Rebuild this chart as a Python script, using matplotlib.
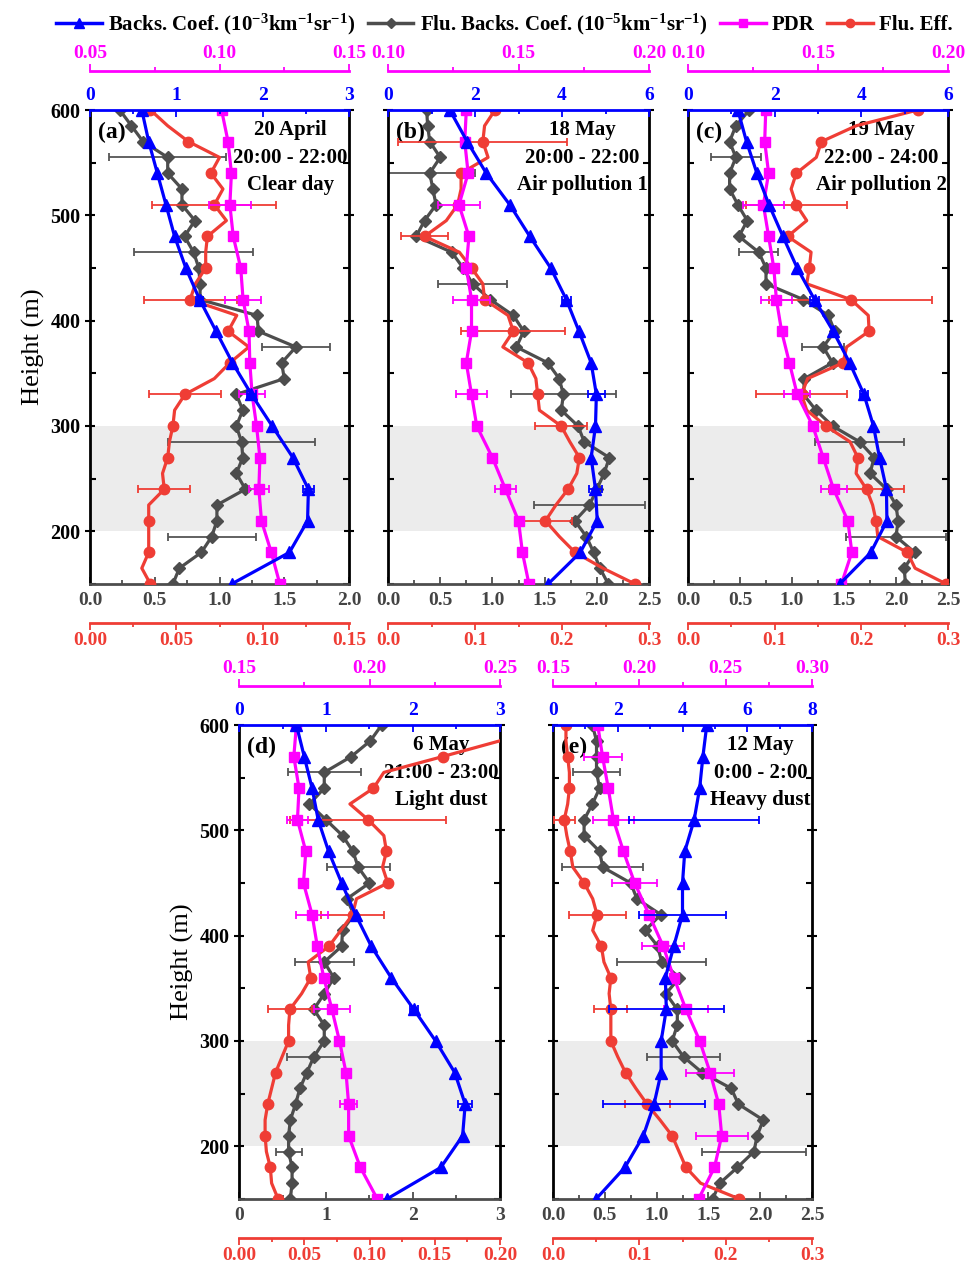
import numpy as np
import matplotlib.pyplot as plt
from matplotlib.ticker import MultipleLocator, FormatStrFormatter
from matplotlib.lines import Line2D

plt.rcParams['font.family'] = ['Liberation Serif', 'DejaVu Serif']
plt.rcParams['font.weight'] = 'bold'
plt.rcParams['mathtext.fontset'] = 'custom'
plt.rcParams['mathtext.rm'] = 'Liberation Serif:bold'
plt.rcParams['mathtext.it'] = 'Liberation Serif:bold'
plt.rcParams['mathtext.bf'] = 'Liberation Serif:bold'

BLUE = '#0000ff'
GRAY = '#4d4d4d'
PINK = '#ff00ff'
RED = '#ef3d35'

# heights (m): fluorescence every 15 m, backscatter / PDR every 30 m
h15 = np.arange(150, 601, 15)
h30 = np.arange(150, 601, 30)

# (a) 20 April, clear day
a_back = [1.64, 2.31, 2.52, 2.53, 2.35, 2.11, 1.87, 1.65, 1.46, 1.27, 1.11, 0.98, 0.88, 0.78, 0.68, 0.60]
a_pdr = [0.1233, 0.120, 0.1162, 0.1152, 0.1156, 0.1143, 0.1126, 0.1117, 0.1114, 0.1091, 0.1082, 0.1053, 0.1040, 0.1046, 0.1033, 0.1008]
a_flu = [0.64, 0.69, 0.86, 0.94, 0.98, 0.98, 1.20, 1.13, 1.18, 1.17, 1.13, 1.18, 1.13, 1.50, 1.48, 1.59,
         1.30, 1.29, 0.85, 0.85, 0.84, 0.80, 0.73, 0.81, 0.71, 0.71, 0.60, 0.60, 0.41, 0.32, 0.23]
a_eff = [0.035, 0.030, 0.034, 0.034, 0.034, 0.034, 0.043, 0.042, 0.045, 0.046, 0.048, 0.049, 0.055, 0.072, 0.081, 0.092,
         0.080, 0.085, 0.058, 0.061, 0.067, 0.067, 0.068, 0.079, 0.072, 0.077, 0.070, 0.075, 0.057, 0.045, 0.035]
a_back_err = {420: 0.04, 330: 0.05, 240: 0.06}
a_pdr_err = {510: 0.008, 420: 0.007, 330: 0.005, 240: 0.004}
a_flu_err = {555: 0.45, 465: 0.46, 375: 0.26, 285: 0.57, 195: 0.34}
a_eff_err = {510: 0.036, 420: 0.027, 330: 0.021, 240: 0.015}

# (b) 18 May, air pollution 1
b_back = [3.68, 4.42, 4.81, 4.77, 4.67, 4.77, 4.79, 4.67, 4.39, 4.10, 3.74, 3.26, 2.80, 2.26, 1.82, 1.42]
b_pdr = [0.154, 0.1515, 0.150, 0.145, 0.140, 0.134, 0.132, 0.130, 0.132, 0.132, 0.130, 0.131, 0.1272, 0.1307, 0.1294, 0.130]
b_flu = [2.11, 2.03, 1.97, 1.90, 1.79, 1.93, 2.00, 2.07, 2.12, 1.88, 1.82, 1.66, 1.68, 1.64, 1.53, 1.23,
         1.30, 1.20, 0.98, 0.81, 0.72, 0.61, 0.27, 0.35, 0.46, 0.43, 0.40, 0.50, 0.40, 0.38, 0.37]
b_eff = [0.284, 0.247, 0.215, 0.197, 0.181, 0.193, 0.207, 0.217, 0.220, 0.209, 0.199, 0.174, 0.172, 0.170, 0.161, 0.132,
         0.144, 0.138, 0.111, 0.109, 0.096, 0.082, 0.042, 0.067, 0.080, 0.084, 0.084, 0.115, 0.109, 0.111, 0.123]
b_back_err = {420: 0.10, 330: 0.20, 240: 0.15}
b_pdr_err = {510: 0.008, 420: 0.007, 330: 0.006, 240: 0.004}
b_flu_err = {540: 0.43, 435: 0.33, 330: 0.50, 225: 0.53}
b_eff_err = {570: 0.097, 480: 0.027, 390: 0.060, 300: 0.030, 210: 0.030}

# (c) 19 May, air pollution 2
c_back = [3.50, 4.22, 4.59, 4.58, 4.42, 4.28, 4.06, 3.73, 3.35, 2.92, 2.52, 2.19, 1.87, 1.59, 1.35, 1.15]
c_pdr = [0.159, 0.163, 0.1615, 0.156, 0.152, 0.148, 0.142, 0.139, 0.136, 0.134, 0.133, 0.131, 0.129, 0.131, 0.1295, 0.1299]
c_flu = [2.09, 2.08, 2.18, 2.00, 2.02, 2.00, 1.91, 1.75, 1.79, 1.65, 1.39, 1.23, 1.11, 1.12, 1.39, 1.30,
         1.41, 1.35, 1.11, 0.75, 0.75, 0.68, 0.49, 0.57, 0.48, 0.40, 0.40, 0.46, 0.40, 0.46, 0.59]
c_eff = [0.298, 0.262, 0.253, 0.219, 0.217, 0.213, 0.206, 0.194, 0.196, 0.187, 0.159, 0.137, 0.131, 0.138, 0.179, 0.183,
         0.209, 0.208, 0.188, 0.137, 0.140, 0.142, 0.115, 0.137, 0.125, 0.119, 0.125, 0.148, 0.154, 0.194, 0.265]
c_back_err = {420: 0.10, 330: 0.10}
c_pdr_err = {510: 0.008, 420: 0.006, 330: 0.005, 240: 0.005}
c_flu_err = {555: 0.24, 465: 0.19, 375: 0.20, 285: 0.43, 195: 0.48}
c_eff_err = {510: 0.058, 420: 0.094, 330: 0.053, 240: 0.043}

# (d) 6 May, light dust
d_back = [1.70, 2.32, 2.57, 2.60, 2.48, 2.26, 2.01, 1.75, 1.52, 1.34, 1.18, 1.03, 0.91, 0.84, 0.75, 0.66]
d_pdr = [0.203, 0.1965, 0.192, 0.192, 0.191, 0.1885, 0.1856, 0.1825, 0.180, 0.178, 0.1747, 0.1756, 0.1724, 0.173, 0.171, 0.172]
d_flu = [0.59, 0.61, 0.61, 0.57, 0.57, 0.59, 0.65, 0.70, 0.78, 0.86, 0.98, 0.98, 0.86, 0.98, 1.09, 0.98,
         1.18, 1.19, 1.32, 1.24, 1.50, 1.37, 1.31, 1.19, 1.00, 0.81, 0.98, 0.98, 1.29, 1.51, 1.64]
d_eff = [0.030, 0.025, 0.024, 0.021, 0.020, 0.020, 0.022, 0.025, 0.028, 0.033, 0.038, 0.038, 0.039, 0.048, 0.055, 0.053,
         0.069, 0.078, 0.087, 0.090, 0.114, 0.110, 0.113, 0.111, 0.099, 0.085, 0.103, 0.111, 0.156, 0.200, 0.222]
d_back_err = {330: 0.05, 240: 0.08}
d_pdr_err = {510: 0.004, 420: 0.006, 330: 0.007, 240: 0.0033}
d_flu_err = {555: 0.42, 465: 0.36, 375: 0.34, 285: 0.31, 195: 0.15}
d_eff_err = {510: 0.060, 420: 0.024, 330: 0.017}

# (e) 12 May, heavy dust
e_back = [1.33, 2.22, 2.79, 3.12, 3.34, 3.34, 3.50, 3.47, 3.73, 4.00, 4.00, 4.07, 4.36, 4.53, 4.63, 4.75]
e_pdr = [0.2343, 0.2435, 0.2477, 0.246, 0.241, 0.235, 0.227, 0.220, 0.2138, 0.2056, 0.1973, 0.1908, 0.185, 0.182, 0.1787, 0.1759]
e_flu = [1.54, 1.61, 1.78, 1.94, 1.97, 2.03, 1.79, 1.72, 1.44, 1.26, 1.15, 1.20, 1.20, 1.09, 1.22, 1.05,
         1.01, 0.89, 1.04, 0.81, 0.75, 0.48, 0.45, 0.30, 0.30, 0.38, 0.45, 0.42, 0.42, 0.42, 0.38]
e_eff = [0.216, 0.171, 0.154, 0.146, 0.138, 0.124, 0.109, 0.096, 0.084, 0.075, 0.067, 0.067, 0.067, 0.065, 0.067, 0.059,
         0.056, 0.046, 0.051, 0.046, 0.036, 0.023, 0.020, 0.016, 0.013, 0.017, 0.019, 0.019, 0.017, 0.015, 0.015]
e_back_err = {510: 2.0, 420: 1.33, 330: 1.77, 240: 1.57}
e_pdr_err = {570: 0.011, 510: 0.012, 450: 0.013, 390: 0.012, 330: 0.013, 270: 0.014, 210: 0.015}
e_flu_err = {555: 0.23, 465: 0.39, 375: 0.43, 285: 0.35, 195: 0.50}
e_eff_err = {510: 0.012, 420: 0.033, 330: 0.019, 240: 0.026}

TS = 14  # tick label size


def add_err(ax, x, h, errs, color):
    hh = list(h)
    for k, e in errs.items():
        ax.errorbar(x[hh.index(k)], k, xerr=e, fmt='none', ecolor=color,
                    elinewidth=1.3, capsize=3, capthick=1.3)


def setup_x(ax, lim, major, minor, fmt, color, lcolor, direction, pad):
    ax.set_xlim(*lim)
    ax.xaxis.set_major_locator(MultipleLocator(major))
    ax.xaxis.set_minor_locator(MultipleLocator(minor))
    ax.xaxis.set_major_formatter(FormatStrFormatter(fmt))
    ax.tick_params(axis='x', which='both', direction=direction, color=color,
                   labelcolor=lcolor, labelsize=TS, pad=pad, width=1.3)
    ax.tick_params(axis='x', which='major', length=5)
    ax.tick_params(axis='x', which='minor', length=3)


def panel(rect, tag, note, back, pdr, flu, eff, errs, lims, ylab):
    ax = fig.add_axes(rect)
    ax.axhspan(200, 300, color='#ececec', lw=0, zorder=0)
    ax.set_ylim(150, 600)
    ax.yaxis.set_major_locator(MultipleLocator(100))
    ax.yaxis.set_minor_locator(MultipleLocator(50))
    ax.yaxis.set_ticks_position('both')
    ax.tick_params(axis='y', which='major', direction='inout', length=7, width=1.5,
                   labelsize=TS + 0.5, labelleft=ylab)
    ax.tick_params(axis='y', which='minor', direction='in', length=4, width=1.5)
    for s in ['left', 'right']:
        ax.spines[s].set_linewidth(2)
    ax.spines['bottom'].set_color(GRAY)
    ax.spines['bottom'].set_linewidth(2)
    ax.spines['top'].set_visible(False)
    if ylab:
        ax.set_ylabel('Height (m)', fontsize=19, labelpad=4)

    axr = ax.twiny()
    axm = ax.twiny()
    axb = ax.twiny()
    for t in (axr, axm, axb):
        for s in t.spines.values():
            s.set_visible(False)
    axr.xaxis.tick_bottom()
    axr.spines['bottom'].set_visible(True)
    axr.spines['bottom'].set_position(('outward', 28))
    axr.spines['bottom'].set_color(RED)
    axr.spines['bottom'].set_linewidth(2)
    axm.spines['top'].set_visible(True)
    axm.spines['top'].set_position(('outward', 28))
    axm.spines['top'].set_color(PINK)
    axm.spines['top'].set_linewidth(2)
    axb.spines['top'].set_visible(True)
    axb.spines['top'].set_color(BLUE)
    axb.spines['top'].set_linewidth(2)

    setup_x(ax, *lims['flu'], GRAY, '#444444', 'in', 6)
    setup_x(axr, *lims['eff'], RED, RED, 'out', 1.5)
    setup_x(axm, *lims['pdr'], PINK, PINK, 'out', 1.5)
    setup_x(axb, *lims['back'], BLUE, BLUE, 'in', 4)

    ax.text(0.03, 0.952, tag, transform=ax.transAxes, fontsize=17, va='center', zorder=1)
    ax.text(0.995, 0.978, note, transform=ax.transAxes, fontsize=15, ha='right', va='top',
            multialignment='center', linespacing=1.5, zorder=1)

    ax.plot(flu, h15, color=GRAY, lw=2.3, marker='D', ms=6.5, zorder=3)
    add_err(ax, flu, h15, errs[2], '#555555')
    axr.plot(eff, h15, color=RED, lw=2.3, marker='o', ms=7.5, markevery=2)
    add_err(axr, eff, h15, errs[3], RED)
    axm.plot(pdr, h30, color=PINK, lw=2.3, marker='s', ms=7)
    add_err(axm, pdr, h30, errs[1], PINK)
    axb.plot(back, h30, color=BLUE, lw=2.3, marker='^', ms=8)
    add_err(axb, back, h30, errs[0], BLUE)
    for t in (axr, axm, axb):
        t.set_ylim(150, 600)


fig = plt.figure(figsize=(9.74, 12.62), dpi=100)

row1 = 1 - 584 / 1262
row2 = 1 - 1199 / 1262
hgt = 474 / 1262

lim_a = {'flu': ((0, 2), 0.5, 0.25, '%.1f'), 'eff': ((0, 0.15), 0.05, 0.025, '%.2f'),
         'pdr': ((0.05, 0.15), 0.05, 0.025, '%.2f'), 'back': ((0, 3), 1, 0.5, '%d')}
lim_bc = {'flu': ((0, 2.5), 0.5, 0.25, '%.1f'), 'eff': ((0, 0.3), 0.1, 0.05, '%.1f'),
          'pdr': ((0.10, 0.20), 0.05, 0.025, '%.2f'), 'back': ((0, 6), 2, 1, '%d')}
lim_d = {'flu': ((0, 3), 1, 0.5, '%d'), 'eff': ((0, 0.2), 0.05, 0.025, '%.2f'),
         'pdr': ((0.15, 0.25), 0.05, 0.025, '%.2f'), 'back': ((0, 3), 1, 0.5, '%d')}
lim_e = {'flu': ((0, 2.5), 0.5, 0.25, '%.1f'), 'eff': ((0, 0.3), 0.1, 0.05, '%.1f'),
         'pdr': ((0.15, 0.30), 0.05, 0.025, '%.2f'), 'back': ((0, 8), 2, 1, '%d')}

panel([90 / 974, row1, 259 / 974, hgt], '(a)', '20 April\n20:00 - 22:00\nClear day',
      a_back, a_pdr, a_flu, a_eff, (a_back_err, a_pdr_err, a_flu_err, a_eff_err), lim_a, True)
panel([388 / 974, row1, 261 / 974, hgt], '(b)', '18 May\n20:00 - 22:00\nAir pollution 1',
      b_back, b_pdr, b_flu, b_eff, (b_back_err, b_pdr_err, b_flu_err, b_eff_err), lim_bc, False)
panel([688 / 974, row1, 260 / 974, hgt], '(c)', '19 May\n22:00 - 24:00\nAir pollution 2',
      c_back, c_pdr, c_flu, c_eff, (c_back_err, c_pdr_err, c_flu_err, c_eff_err), lim_bc, False)
panel([239 / 974, row2, 261 / 974, hgt], '(d)', '6 May\n21:00 - 23:00\nLight dust',
      d_back, d_pdr, d_flu, d_eff, (d_back_err, d_pdr_err, d_flu_err, d_eff_err), lim_d, True)
panel([553 / 974, row2, 259 / 974, hgt], '(e)', '12 May\n0:00 - 2:00\nHeavy dust',
      e_back, e_pdr, e_flu, e_eff, (e_back_err, e_pdr_err, e_flu_err, e_eff_err), lim_e, False)

handles = [Line2D([], [], color=BLUE, lw=2.5, marker='^', ms=7),
           Line2D([], [], color=GRAY, lw=2.5, marker='D', ms=5.5),
           Line2D([], [], color=PINK, lw=2.5, marker='s', ms=6),
           Line2D([], [], color=RED, lw=2.5, marker='o', ms=6)]
labels = [r'Backs. Coef. (10$^{-3}$km$^{-1}$sr$^{-1}$)',
          r'Flu. Backs. Coef. (10$^{-5}$km$^{-1}$sr$^{-1}$)', 'PDR', 'Flu. Eff.']
fig.legend(handles, labels, loc='center', bbox_to_anchor=(0.518, 1 - 24 / 1262), ncol=4,
           frameon=False, fontsize=15, handlelength=2.2, handletextpad=0.3, columnspacing=0.6)

fig.savefig('out.png', dpi=100)
